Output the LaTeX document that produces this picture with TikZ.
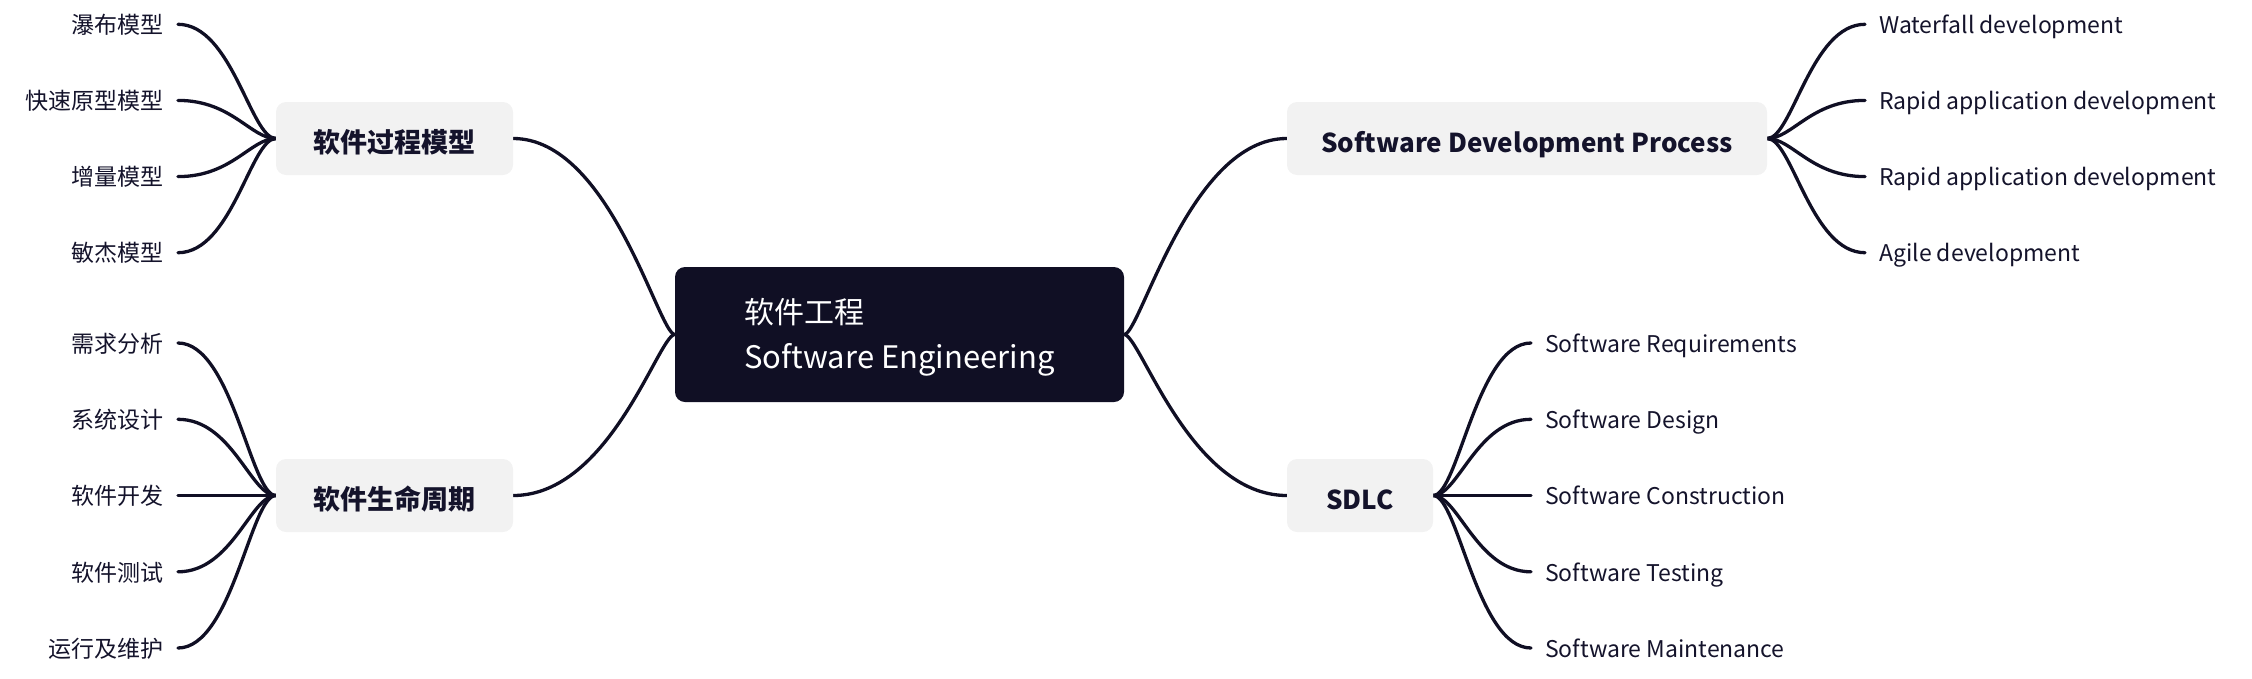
\documentclass[tikz,border=0pt]{standalone}
\usepackage{fontspec}
\setmainfont{Noto Sans CJK SC}
\usetikzlibrary{calc,backgrounds}
\definecolor{ink}{HTML}{100F24}
\definecolor{boxgrey}{HTML}{F2F2F2}
\definecolor{txt}{HTML}{14132B}
\tikzset{
  rootbox/.style={rectangle, rounded corners=10pt, fill=ink, minimum width=449pt, minimum height=135pt, inner sep=0pt},
  roottext/.style={text=white, align=left, inner sep=0pt, font=\fontsize{30}{45}\selectfont},
  mainbox/.style={rectangle, rounded corners=10pt, fill=boxgrey, text=txt, minimum height=73pt, inner sep=0pt, text height=28pt, text depth=0pt, font=\fontsize{27}{32}\selectfont\bfseries},
  leafl/.style={anchor=east, inner xsep=14pt, inner ysep=0pt, text height=18.4pt, text depth=0pt, text=txt, font=\fontsize{23}{28}\selectfont},
  leafr/.style={anchor=west, inner xsep=14pt, inner ysep=0pt, text height=18.4pt, text depth=0pt, text=txt, font=\fontsize{23}{28}\selectfont},
  link/.style={draw=ink, line width=3.3pt, line cap=round}
}
\begin{document}
\begin{tikzpicture}[x=1pt,y=-1pt]
\useasboundingbox (0,0) rectangle (2252,678);
% root
\node[rootbox] (root) at (899.5,334.5) {};
\node[roottext] (roottxt) at (899.5,337) {软件工程\\{\fontsize{31}{45}\selectfont Software Engineering}};
% main topics
\node[mainbox, minimum width=237pt] (pm) at (394.5,138.5) {软件过程模型};
\node[mainbox, minimum width=237pt] (lc) at (394.5,495.5) {软件生命周期};
\node[mainbox, minimum width=480pt, font=\fontsize{26}{32}\selectfont\bfseries] (sdp) at (1527,138.5) {Software Development Process};
\node[mainbox, minimum width=146pt, font=\fontsize{26}{32}\selectfont\bfseries] (sdlc) at (1360,495.5) {SDLC};
% leaves: process models
\node[leafl] (pm1) at (178,24.3) {瀑布模型};
\node[leafl] (pm2) at (178,100.4) {快速原型模型};
\node[leafl] (pm3) at (178,176.6) {增量模型};
\node[leafl] (pm4) at (178,252.7) {敏杰模型};
% leaves: life cycle
\node[leafl] (lc1) at (178,343) {需求分析};
\node[leafl] (lc2) at (178,419.3) {系统设计};
\node[leafl] (lc3) at (178,495.5) {软件开发};
\node[leafl] (lc4) at (178,571.8) {软件测试};
\node[leafl] (lc5) at (178,648) {运行及维护};
% leaves: software development process
\node[leafr] (sd1) at (1865,24.3) {Waterfall development};
\node[leafr] (sd2) at (1865,100.4) {Rapid application development};
\node[leafr] (sd3) at (1865,176.6) {Rapid application development};
\node[leafr] (sd4) at (1865,252.7) {Agile development};
% leaves: SDLC
\node[leafr] (sl1) at (1531,343) {Software Requirements};
\node[leafr] (sl2) at (1531,419.3) {Software Design};
\node[leafr] (sl3) at (1531,495.5) {Software Construction};
\node[leafr] (sl4) at (1531,571.8) {Software Testing};
\node[leafr] (sl5) at (1531,648) {Software Maintenance};
\begin{scope}[on background layer]
% root connectors
\draw[link] (root.west) .. controls +(-16,0) and +(97,0) .. (pm.east);
\draw[link] (root.west) .. controls +(-16,0) and +(97,0) .. (lc.east);
\draw[link] (root.east) .. controls +(16,0) and +(-97,0) .. (sdp.west);
\draw[link] (root.east) .. controls +(16,0) and +(-97,0) .. (sdlc.west);
% leaf connectors
\foreach \n in {pm1,pm2,pm3,pm4}{
  \draw[link] (pm.west) .. controls +(-25,0) and +(54,0) .. (\n.east);
}
\foreach \n in {lc1,lc2,lc3,lc4,lc5}{
  \draw[link] (lc.west) .. controls +(-25,0) and +(54,0) .. (\n.east);
}
\foreach \n in {sd1,sd2,sd3,sd4}{
  \draw[link] (sdp.east) .. controls +(25,0) and +(-54,0) .. (\n.west);
}
\foreach \n in {sl1,sl2,sl3,sl4,sl5}{
  \draw[link] (sdlc.east) .. controls +(25,0) and +(-54,0) .. (\n.west);
}
\end{scope}
\end{tikzpicture}
\end{document}
